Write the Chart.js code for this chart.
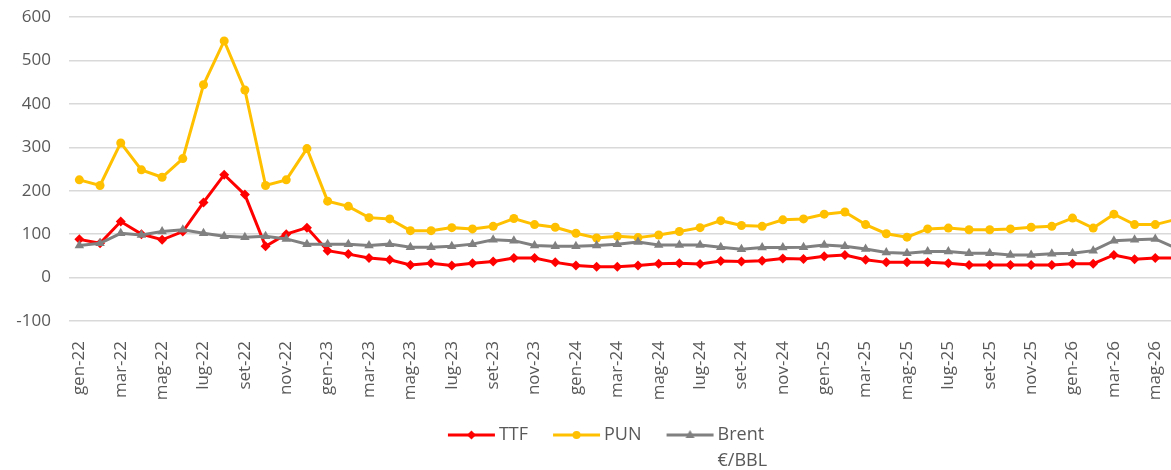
<!DOCTYPE html>
<html>
<head>
    <meta charset="utf-8">
    <title>TTF PUN Brent</title>
    <script src="https://cdn.jsdelivr.net/npm/chart.js"></script>
    <style>
        body { margin: 0; overflow: hidden; background: #fff; }
    </style>
</head>
<body>
<div style="position: absolute; top: 0; left: 0; width: 1214px; height: 470px;">
    <canvas id="Prices"></canvas>
</div>
<script>
    const months = ['gen', 'feb', 'mar', 'apr', 'mag', 'giu', 'lug', 'ago', 'set', 'ott', 'nov', 'dic'];
    const years = ['22', '23', '24', '25', '26'];
    const labels = [];
    years.forEach(y => months.forEach(m => labels.push(m + '-' + y)));
    labels.length = 55; // gen-22 .. lug-26

    const ttf = [88, 79, 129, 100, 87, 106, 173, 237, 191, 72, 100, 115, 62, 54, 45, 41,
        29, 33, 28, 33, 37, 45, 45, 35, 28, 25, 25, 28, 32, 33, 31, 38, 37, 39,
        44, 43, 49, 52, 41, 35, 35, 35, 33, 29, 29, 29, 29, 29, 32, 32, 52, 42, 45, 45];
    const pun = [225, 212, 310, 248, 231, 274, 444, 545, 432, 212, 225, 297, 176, 164, 138, 135,
        108, 108, 115, 112, 118, 136, 122, 116, 102, 91, 95, 92, 98, 106, 115, 131, 120, 118,
        133, 135, 146, 151, 122, 101, 93, 112, 114, 110, 110, 112, 116, 118, 137, 114, 146, 122, 122, 134];
    const brent = [74, 79, 102, 98, 106, 110, 102, 95, 93, 95, 89, 77, 77, 77, 74, 77,
        70, 70, 72, 77, 87, 85, 74, 72, 72, 74, 77, 82, 75, 75, 75, 70, 65, 69,
        69, 70, 75, 72, 66, 58, 56, 60, 60, 56, 56, 52, 52, 55, 56, 62, 85, 87, 89, 68];

    const FONT = "'Open Sans', sans-serif";
    const TEXT = '#595959';
    const BOX_W = 56;

    // "line + marker" pictures for the legend (line sits right of the box centre)
    function legend_icon(color, style) {
        const c = document.createElement('canvas');
        c.width = 100;
        c.height = 14;
        const ctx = c.getContext('2d');
        const cx = 59.5;
        ctx.strokeStyle = color;
        ctx.fillStyle = color;
        ctx.lineWidth = 3;
        ctx.beginPath();
        ctx.moveTo(36, 7);
        ctx.lineTo(83, 7);
        ctx.stroke();
        ctx.beginPath();
        if (style === 'diamond') {
            ctx.moveTo(cx, 2.5); ctx.lineTo(cx + 4.5, 7); ctx.lineTo(cx, 11.5); ctx.lineTo(cx - 4.5, 7);
        } else if (style === 'circle') {
            ctx.arc(cx, 7, 4, 0, Math.PI * 2);
        } else {
            ctx.moveTo(cx, 2); ctx.lineTo(cx + 4.5, 10); ctx.lineTo(cx - 4.5, 10);
        }
        ctx.closePath();
        ctx.fill();
        return c;
    }

    const icons = [legend_icon('#ff0000', 'diamond'), legend_icon('#ffc000', 'circle'), legend_icon('#808080', 'triangle')];

    // second line of the Brent legend entry
    const unit_line = {
        id: 'unit_line',
        afterDraw(chart) {
            const lg = chart.legend;
            if (!lg || !lg.legendHitBoxes || !lg.legendHitBoxes[2]) return;
            const hb = lg.legendHitBoxes[2];
            const ctx = chart.ctx;
            ctx.save();
            ctx.font = '18px ' + FONT;
            ctx.fillStyle = TEXT;
            ctx.textAlign = 'left';
            ctx.textBaseline = 'middle';
            ctx.fillText('€/BBL', hb.left + BOX_W + 9, hb.top + hb.height / 2 + 26);
            ctx.restore();
        }
    };

    function line_set(label, data, color, style, radius, order) {
        return {
            label: label,
            data: data,
            borderColor: color,
            backgroundColor: color,
            borderWidth: 3,
            pointStyle: style,
            pointRadius: radius,
            pointHoverRadius: radius,
            pointBorderWidth: 0,
            pointBackgroundColor: color,
            tension: 0,
            order: order
        };
    }

    new Chart(document.getElementById('Prices'), {
        type: 'line',
        data: {
            labels: labels,
            datasets: [
                line_set('TTF', ttf, '#ff0000', 'rectRot', 5, 2),
                line_set('PUN', pun, '#ffc000', 'circle', 4.5, 1),
                line_set('Brent €/BBL', brent, '#808080', 'triangle', 5.5, 0)
            ]
        },
        plugins: [unit_line],
        options: {
            responsive: true,
            maintainAspectRatio: false,
            animation: false,
            layout: { padding: { left: -9, right: 7, top: 0, bottom: 16 } },
            plugins: {
                tooltip: { enabled: false },
                legend: {
                    position: 'bottom',
                    labels: {
                        font: { family: FONT, size: 18 },
                        color: TEXT,
                        padding: 11,
                        usePointStyle: true,
                        pointStyleWidth: BOX_W,
                        sort: (a, b) => a.datasetIndex - b.datasetIndex,
                        generateLabels: function (chart) {
                            const items = Chart.defaults.plugins.legend.labels.generateLabels(chart);
                            items.forEach(it => {
                                it.pointStyle = icons[it.datasetIndex];
                                if (it.datasetIndex === 2) it.text = 'Brent';
                            });
                            return items;
                        }
                    }
                }
            },
            scales: {
                x: {
                    offset: true,
                    afterFit: function (scale) {
                        scale.paddingLeft = 0;
                        scale.paddingRight = 0;
                        scale.height = 94;
                    },
                    grid: { display: false, drawTicks: false },
                    border: { display: false },
                    ticks: {
                        autoSkip: false,
                        maxRotation: 90,
                        minRotation: 90,
                        padding: 20,
                        color: TEXT,
                        font: { family: FONT, size: 17 },
                        callback: function (v, i) {
                            return i % 2 === 0 ? this.getLabelForValue(v) : '';
                        }
                    }
                },
                y: {
                    min: -100,
                    max: 600,
                    afterFit: function (scale) {
                        scale.width = 78;
                        scale.paddingTop = 17;
                    },
                    grid: { color: '#d9d9d9', lineWidth: 1.5, drawTicks: false },
                    border: { display: false },
                    ticks: {
                        stepSize: 100,
                        padding: 18,
                        color: TEXT,
                        font: { family: FONT, size: 17 }
                    }
                }
            }
        }
    });
</script>
</body>
</html>
